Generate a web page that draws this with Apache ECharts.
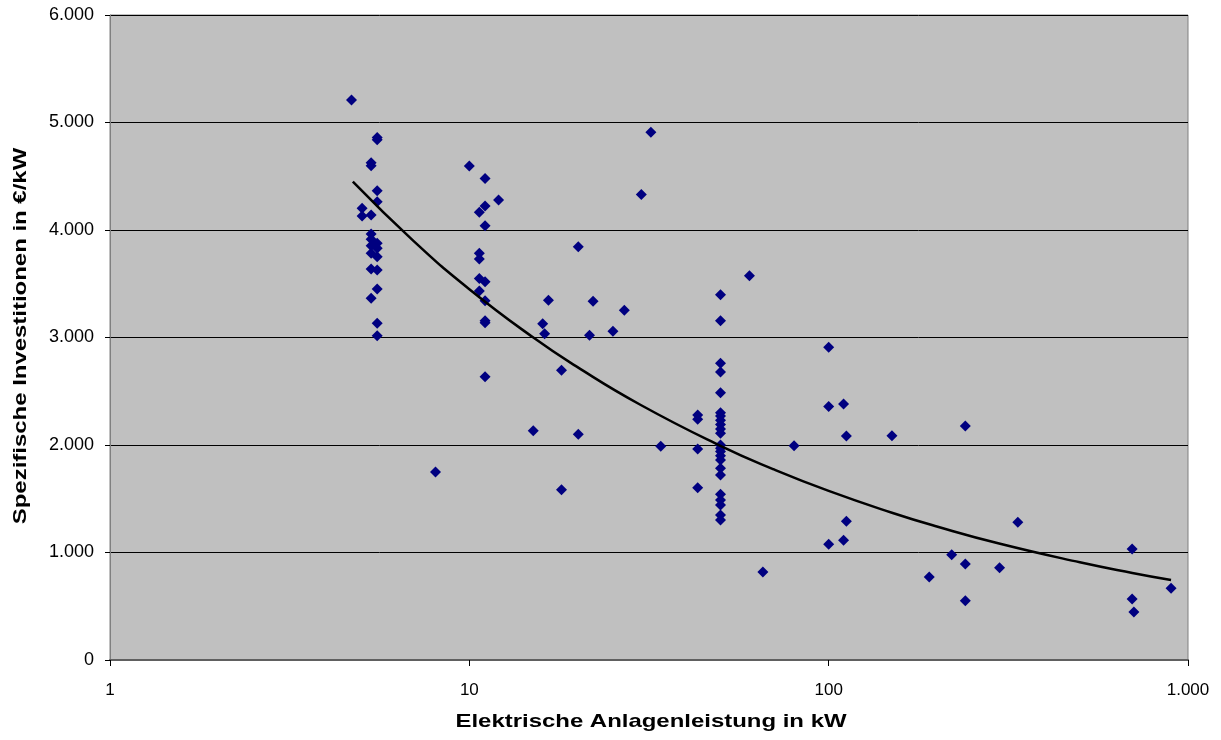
<!DOCTYPE html>
<html>
<head>
<meta charset="utf-8">
<script src="https://cdn.jsdelivr.net/npm/echarts@6/dist/echarts.min.js"></script>
<style>
  html, body { margin: 0; padding: 0; background: #ffffff; }
  #chart { width: 1221px; height: 740px; }
</style>
</head>
<body>
<div id="chart"></div>
<script>
// Messpunkte: Leistung in kW / spez. Investition in EUR/kW
var leistung = [
  4.7,
  5.54, 5.54, 5.54, 5.54, 5.54, 5.54, 5.54, 5.54, 5.54, 5.54, 5.54,
  5.33, 5.33, 5.33, 5.33, 5.33, 5.33, 5.33, 5.33, 5.33,
  5.03, 5.03,
  8.05,
  10.0,
  11.06, 11.06, 11.06, 11.06, 11.06, 11.06, 11.06, 11.06,
  12.06,
  10.66, 10.66, 10.66, 10.66, 10.66,
  15.06, 16.0, 16.2, 16.6, 18.05, 18.05, 20.1, 20.1, 21.6, 22.1, 25.1, 27.0, 30.1, 32.0, 34.1,
  43.2, 43.2, 43.2, 43.2,
  50, 50, 50, 50, 50, 50, 50, 50, 50, 50, 50, 50, 50, 50, 50, 50, 50, 50, 50, 50, 50, 50, 50,
  60.2, 65.6, 80.1,
  100, 100, 100, 110, 110, 112, 112, 150,
  190.5, 220, 240, 240, 240, 299, 336,
  699, 699, 707, 897
];
var investition = [
  5210,
  4860, 4840, 4366, 4263, 3876, 3830, 3752, 3628, 3451, 3132, 3017,
  4626, 4598, 4140, 3963, 3914, 3854, 3783, 3637, 3365,
  4202, 4130,
  1749,
  4595,
  4478, 4223, 4040, 3519, 3342, 3156, 3137, 2635,
  4279,
  4165, 3783, 3730, 3550, 3433,
  2133, 3128, 3035, 3346, 2695, 1584, 3845, 2099, 3020, 3337, 3057, 3253, 4330, 4910, 1988,
  2279, 2239, 1963, 1603,
  3398, 3156, 2760, 2679, 2487, 2300, 2270, 2230, 2190, 2150, 2110, 2000, 1970, 1940, 1900, 1860, 1783, 1721, 1541, 1488, 1442, 1349, 1302,
  3575, 819, 1994,
  2909, 2357, 1076, 2381, 1113, 2084, 1290, 2087,
  772, 980, 2177, 893, 552, 859, 1281,
  1033, 567, 447, 667
];

var trendX = [4.74, 7, 10, 15, 20, 30, 50, 70, 100, 150, 200, 300, 500, 700, 897];
var trendY = [4450, 3897, 3449, 3004, 2724, 2372, 1992, 1776, 1573, 1370, 1242, 1081, 909, 810, 744];

var yTicks = [0, 1000, 2000, 3000, 4000, 5000, 6000];

var titelX = "Elektrische Anlagenleistung in kW";
var titelY = "Spezifische Investitionen in €/kW";

function tausender(v) {
  return String(Math.round(v)).replace(/\B(?=(\d{3})+(?!\d))/g, ".");
}

var punkte = leistung.map(function (x, i) { return [x, investition[i]]; });
var trend = trendX.map(function (x, i) { return [x, trendY[i]]; });

var schrift = "'Liberation Sans', Arial, sans-serif";

var chart = echarts.init(document.getElementById("chart"));
var option = {
  animation: false,
  textStyle: { fontFamily: schrift },
  grid: {
    left: 110,
    right: 33,
    top: 15,
    bottom: 80,
    show: true,
    backgroundColor: "#c0c0c0",
    borderColor: "#808080",
    borderWidth: 1
  },
  // Achsentitel (im Original etwas breiter laufend)
  graphic: [
    {
      type: "text",
      x: 651,
      y: 722,
      scaleX: 1.26,
      style: {
        text: titelX,
        fontSize: 19,
        fontWeight: "bold",
        fontFamily: schrift,
        fill: "#000",
        align: "center",
        verticalAlign: "middle"
      }
    },
    {
      type: "text",
      x: 21,
      y: 336,
      rotation: Math.PI / 2,
      scaleX: 1.26,
      style: {
        text: titelY,
        fontSize: 19,
        fontWeight: "bold",
        fontFamily: schrift,
        fill: "#000",
        align: "center",
        verticalAlign: "middle"
      }
    }
  ],
  xAxis: {
    type: "log",
    logBase: 10,
    min: 1,
    max: 1000,
    axisLine: { show: true, lineStyle: { color: "#606060", width: 2 } },
    axisTick: { show: true, length: 6, lineStyle: { color: "#000" } },
    minorTick: { show: false },
    minorSplitLine: { show: false },
    axisLabel: {
      fontSize: 17,
      color: "#000",
      margin: 22,
      formatter: function (v) { return tausender(v); }
    },
    splitLine: { show: false }
  },
  yAxis: {
    type: "value",
    min: yTicks[0],
    max: yTicks[yTicks.length - 1],
    interval: 1000,
    axisLine: { show: true, lineStyle: { color: "#808080" } },
    axisTick: { show: true, length: 5, lineStyle: { color: "#000" } },
    axisLabel: {
      fontSize: 18,
      color: "#000",
      margin: 16,
      formatter: function (v) { return tausender(v); }
    },
    splitLine: { show: true, lineStyle: { color: "#000", width: 1 } }
  },
  series: [
    {
      type: "scatter",
      data: punkte,
      symbol: "diamond",
      symbolSize: [11, 11],
      itemStyle: { color: "#000080", opacity: 1 },
      z: 3
    },
    {
      type: "line",
      data: trend,
      smooth: true,
      showSymbol: false,
      lineStyle: { color: "#000", width: 2.5 },
      z: 4
    }
  ]
};
chart.setOption(option);
</script>
</body>
</html>
